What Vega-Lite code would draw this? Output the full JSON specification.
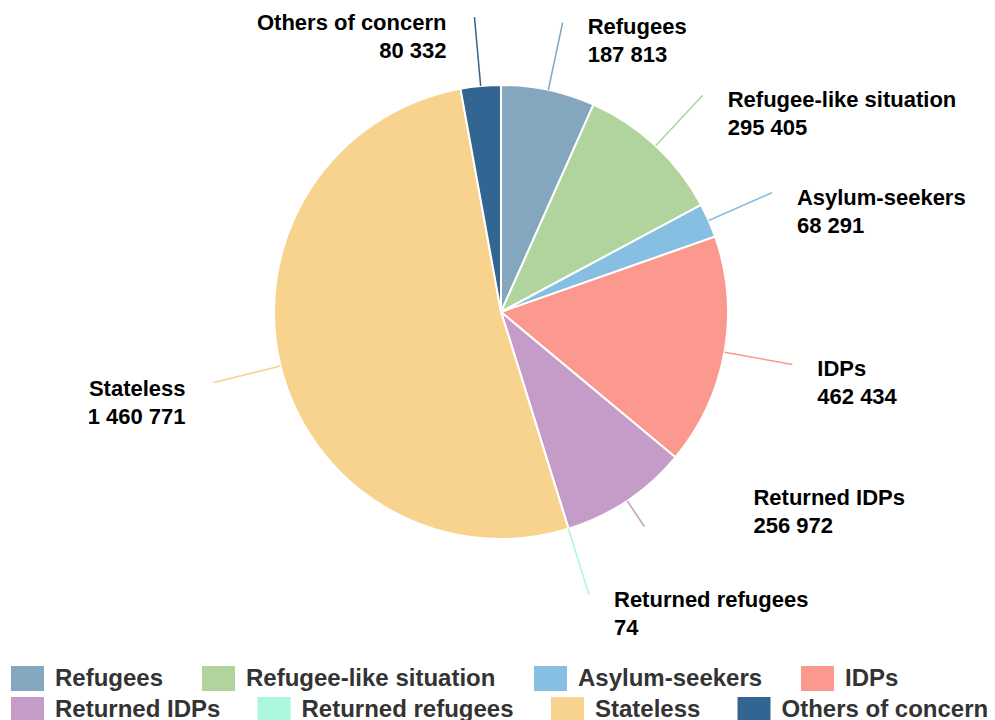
{
  "$schema": "https://vega.github.io/schema/vega-lite/v6.json",
  "width": 1002,
  "height": 624,
  "padding": 0,
  "autosize": {"type": "pad"},
  "background": "white",
  "config": {"view": {"stroke": null}, "font": "Liberation Sans"},
  "data": {
    "values": [
      {"category": "Refugees", "value": 187813, "order": 1},
      {"category": "Refugee-like situation", "value": 295405, "order": 2},
      {"category": "Asylum-seekers", "value": 68291, "order": 3},
      {"category": "IDPs", "value": 462434, "order": 4},
      {"category": "Returned IDPs", "value": 256972, "order": 5},
      {"category": "Returned refugees", "value": 74, "order": 6},
      {"category": "Stateless", "value": 1460771, "order": 7},
      {"category": "Others of concern", "value": 80332, "order": 8}
    ]
  },
  "transform": [
    {"window": [{"op": "sum", "field": "value", "as": "cum"}], "sort": [{"field": "order", "order": "ascending"}], "frame": [null, 0]},
    {"joinaggregate": [{"op": "sum", "field": "value", "as": "total"}]},
    {"calculate": "(datum.cum - datum.value) / datum.total", "as": "start"},
    {"calculate": "datum.cum / datum.total", "as": "end"},
    {"calculate": "(datum.cum - datum.value / 2) / datum.total", "as": "mid"},
    {"calculate": "datum.category + '\\n' + replace(format(datum.value, ','), regexp(',', 'g'), ' ')", "as": "label"}
  ],
  "layer": [
    {
      "mark": {"type": "arc", "radius": 227, "stroke": "white", "strokeWidth": 2},
      "encoding": {
        "theta": {"field": "start", "type": "quantitative", "stack": null, "scale": {"domain": [0, 1]}},
        "theta2": {"field": "end"},
        "color": {
          "field": "category",
          "type": "nominal",
          "sort": null,
          "scale": {
            "domain": ["Refugees", "Refugee-like situation", "Asylum-seekers", "IDPs", "Returned IDPs", "Returned refugees", "Stateless", "Others of concern"],
            "range": ["#84a7bf", "#b0d49b", "#87bfe2", "#fb998f", "#c59cc7", "#abf7dc", "#f8d38d", "#336592"]
          },
          "legend": {
            "orient": "none",
            "direction": "horizontal",
            "legendX": 15,
            "legendY": 666,
            "columns": 4,
            "values": ["Refugees", "Refugee-like situation", "Asylum-seekers", "IDPs"],
            "title": null,
            "padding": 0,
            "symbolType": "M-1.32,-1H1.32V1H-1.32Z",
            "symbolSize": 625,
            "symbolStrokeWidth": 0,
            "symbolOpacity": 1,
            "labelFont": "Liberation Sans",
            "labelFontSize": 24,
            "labelFontWeight": "bold",
            "labelColor": "#333333",
            "labelOffset": 15,
            "labelLimit": 0,
            "columnPadding": 38
          }
        },
        "order": {"field": "order"}
      }
    },
    {
      "transform": [{"filter": "datum.category != 'Returned IDPs'"}],
      "mark": {"type": "arc", "radius": 296, "radius2": 227, "filled": false, "strokeWidth": 1.5},
      "encoding": {
        "theta": {"field": "mid", "type": "quantitative", "stack": null},
        "theta2": {"field": "mid"},
        "stroke": {
          "field": "category",
          "type": "nominal",
          "sort": null,
          "scale": {
            "domain": ["Returned IDPs", "Returned refugees", "Stateless", "Others of concern", "Refugees", "Refugee-like situation", "Asylum-seekers", "IDPs"],
            "range": ["#c59cc7", "#abf7dc", "#f8d38d", "#336592", "#84a7bf", "#b0d49b", "#87bfe2", "#fb998f"]
          },
          "legend": {
            "orient": "none",
            "direction": "horizontal",
            "legendX": 2.5,
            "legendY": 684.5,
            "columns": 4,
            "values": ["Returned IDPs", "Returned refugees", "Stateless", "Others of concern"],
            "title": null,
            "padding": 0,
            "symbolType": "M-1.32,0H1.32",
            "symbolSize": 625,
            "symbolStrokeWidth": 25,
            "symbolOpacity": 1,
            "labelFont": "Liberation Sans",
            "labelFontSize": 24,
            "labelFontWeight": "bold",
            "labelColor": "#333333",
            "labelOffset": 2.5,
            "labelLimit": 0,
            "columnPadding": -13.5
          }
        }
      }
    },
    {
      "transform": [{"filter": "datum.category == 'Returned IDPs'"}],
      "mark": {"type": "arc", "radius": 258, "radius2": 227, "filled": false, "strokeWidth": 1.5},
      "encoding": {
        "theta": {"field": "mid", "type": "quantitative", "stack": null},
        "theta2": {"field": "mid"},
        "stroke": {"field": "category", "type": "nominal", "sort": null}
      }
    },
    {
      "transform": [{"filter": "indexof(['Stateless', 'Others of concern', 'Returned IDPs'], datum.category) < 0"}],
      "mark": {"type": "text", "radius": 296, "dx": 25, "dy": 5, "align": "left", "baseline": "middle", "font": "Liberation Sans", "fontSize": 22, "fontWeight": "bold", "lineBreak": "\n", "lineHeight": 28, "color": "#000000"},
      "encoding": {
        "theta": {"field": "mid", "type": "quantitative", "stack": null},
        "text": {"field": "label", "type": "nominal"}
      }
    },
    {
      "transform": [{"filter": "datum.category == 'Returned IDPs'"}],
      "mark": {"type": "text", "radius": 296, "dx": 88, "dy": -60, "align": "left", "baseline": "middle", "font": "Liberation Sans", "fontSize": 22, "fontWeight": "bold", "lineBreak": "\n", "lineHeight": 28, "color": "#000000"},
      "encoding": {
        "theta": {"field": "mid", "type": "quantitative", "stack": null},
        "text": {"field": "label", "type": "nominal"}
      }
    },
    {
      "transform": [{"filter": "datum.category == 'Stateless' || datum.category == 'Others of concern'"}],
      "mark": {"type": "text", "radius": 296, "dx": -28, "dy": 6, "align": "right", "baseline": "middle", "font": "Liberation Sans", "fontSize": 22, "fontWeight": "bold", "lineBreak": "\n", "lineHeight": 28, "color": "#000000"},
      "encoding": {
        "theta": {"field": "mid", "type": "quantitative", "stack": null},
        "text": {"field": "label", "type": "nominal"}
      }
    }
  ]
}
